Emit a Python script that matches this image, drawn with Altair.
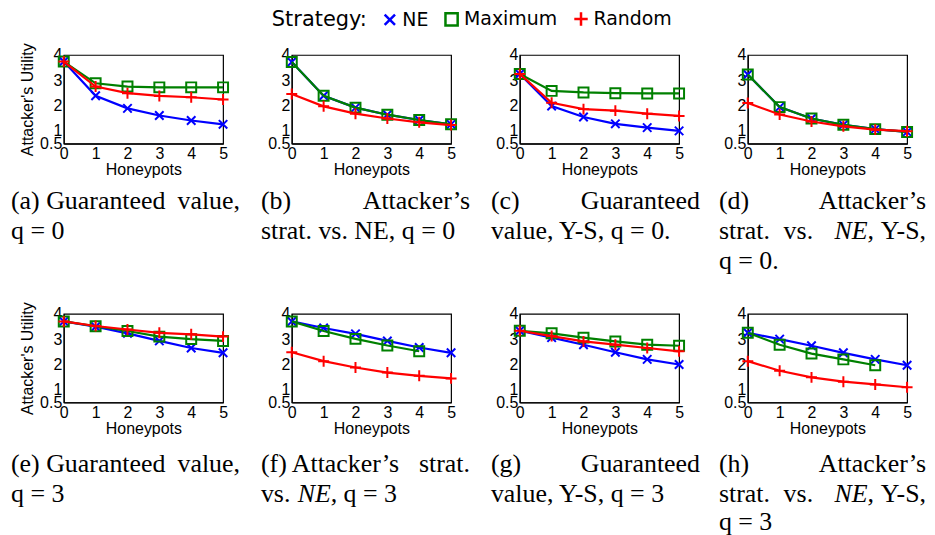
import altair as alt
import pandas as pd

honeypots = [0, 1, 2, 3, 4, 5]
strategies = ["NE", "Maximum", "Random"]
y_ticks = [0.5, 1, 2, 3, 4]

# (a) Guaranteed value, q = 0
a_ne = [3.74, 2.39, 1.89, 1.61, 1.41, 1.26]
a_max = [3.74, 2.88, 2.75, 2.72, 2.72, 2.72]
a_rand = [3.74, 2.75, 2.49, 2.38, 2.33, 2.24]
# (b) Attacker's strat. vs. NE, q = 0
b_ne = [3.72, 2.39, 1.92, 1.64, 1.43, 1.26]
b_max = [3.72, 2.39, 1.92, 1.64, 1.43, 1.26]
b_rand = [2.46, 1.97, 1.68, 1.49, 1.34, 1.23]
# (c) Guaranteed value, Y-S, q = 0
c_ne = [3.25, 1.98, 1.55, 1.28, 1.13, 1.00]
c_max = [3.25, 2.58, 2.52, 2.49, 2.48, 2.48]
c_rand = [3.25, 2.11, 1.86, 1.80, 1.68, 1.59]
# (d) Attacker's strat. vs. NE, Y-S, q = 0
d_ne = [3.23, 1.94, 1.49, 1.24, 1.07, 0.96]
d_max = [3.23, 1.94, 1.49, 1.24, 1.07, 0.96]
d_rand = [2.10, 1.65, 1.37, 1.18, 1.05, 0.99]
# (e) Guaranteed value, q = 3
e_ne = [3.70, 3.49, 3.23, 2.93, 2.65, 2.46]
e_max = [3.70, 3.51, 3.32, 3.10, 3.00, 2.93]
e_rand = [3.70, 3.52, 3.38, 3.25, 3.19, 3.10]
# (f) Attacker's strat. vs. NE, q = 3
f_ne = [3.70, 3.44, 3.21, 2.93, 2.67, 2.46]
f_max = [3.70, 3.32, 3.01, 2.75, 2.52, None]
f_rand = [2.48, 2.13, 1.88, 1.68, 1.55, 1.45]
# (g) Guaranteed value, Y-S, q = 3
g_ne = [3.33, 3.06, 2.78, 2.48, 2.20, 2.00]
g_max = [3.33, 3.23, 3.06, 2.91, 2.78, 2.74]
g_rand = [3.33, 3.12, 2.91, 2.78, 2.65, 2.52]
# (h) Attacker's strat. vs. NE, Y-S, q = 3
h_ne = [3.25, 3.00, 2.74, 2.46, 2.20, 1.97]
h_max = [3.25, 2.78, 2.43, 2.20, 1.97, None]
h_rand = [2.13, 1.75, 1.49, 1.32, 1.21, 1.10]

cap_a = [("(a) Guaranteed", 0, "L", False), ("value,", 0, "R", False), ("q = 0", 1, "L", False)]
cap_b = [("(b)", 0, "L", False), ("Attacker\u2019s", 0, "R", False), ("strat. vs. NE, q = 0", 1, "L", False)]
cap_c = [("(c)", 0, "L", False), ("Guaranteed", 0, "R", False), ("value, Y-S, q = 0.", 1, "L", False)]
cap_d = [("(d)", 0, "L", False), ("Attacker\u2019s", 0, "R", False), ("strat.", 1, "L", False),
         ("vs.", 1, 65, False), ("NE,", 1, 116, True), ("Y-S,", 1, "R", False), ("q = 0.", 2, "L", False)]
cap_e = [("(e) Guaranteed", 0, "L", False), ("value,", 0, "R", False), ("q = 3", 1, "L", False)]
cap_f = [("(f) Attacker\u2019s", 0, "L", False), ("strat.", 0, "R", False), ("vs.", 1, "L", False),
         ("NE,", 1, 37, True), ("q = 3", 1, 83, False)]
cap_g = [("(g)", 0, "L", False), ("Guaranteed", 0, "R", False), ("value, Y-S, q = 3", 1, "L", False)]
cap_h = [("(h)", 0, "L", False), ("Attacker\u2019s", 0, "R", False), ("strat.", 1, "L", False),
         ("vs.", 1, 65, False), ("NE,", 1, 116, True), ("Y-S,", 1, "R", False), ("q = 3", 2, "L", False)]

COLORS = ["#0000ff", "#008000", "#ff0000"]
SHAPES = ["M-0.85,-0.85L0.85,0.85M-0.85,0.85L0.85,-0.85", "square", "M-1.1,0L1.1,0M0,-1.1L0,1.1"]
CAP_FONT = "Liberation Serif"
CAP_FS = 26

LEGEND = alt.Legend(
    title="Strategy:", orient="none", legendX=209, legendY=-46, direction="horizontal",
    titleOrient="left", titleFont="DejaVu Sans", titleFontSize=21, titleFontWeight="normal",
    titleColor="black", titlePadding=13, labelFont="DejaVu Sans", labelFontSize=19,
    labelColor="black", labelOffset=3, symbolSize=150, symbolStrokeWidth=2.5, columnPadding=11,
)

one_row = pd.DataFrame({"k": [0]})


def make_df(series):
    rows = []
    for s, vals in zip(strategies, series):
        for h, v in zip(honeypots, vals):
            if v is not None:
                rows.append({"Honeypots": h, "Utility": v, "Strategy": s})
    return pd.DataFrame(rows)


def caption_marks(caption, cap_dx, cap_w, cap_y):
    out = []
    for text, line_i, pos, italic in caption:
        if pos == "R":
            x, align = cap_dx + cap_w, "right"
        elif pos == "L":
            x, align = cap_dx, "left"
        else:
            x, align = cap_dx + pos, "left"
        kw = dict(text=text, align=align, baseline="alphabetic", font=CAP_FONT,
                  fontSize=CAP_FS, color="black")
        if italic:
            kw["fontStyle"] = "italic"
        out.append(alt.Chart(one_row).mark_text(**kw).encode(
            x=alt.value(x), y=alt.value(cap_y[line_i])))
    return out


def panel(series, show_ytitle, caption, cap_dx, cap_w, cap_y):
    df = make_df(series)
    xenc = alt.X("Honeypots:Q", scale=alt.Scale(domain=[0, 5], nice=False, zero=False),
                 axis=alt.Axis(values=honeypots, title="Honeypots", labelFlush=False, ticks=False,
                               labelPadding=2, titlePadding=0, grid=False))
    yax = dict(values=y_ticks, format="~g", labelFlush=False, labelOverlap=False, ticks=False,
               labelPadding=2, grid=False)
    if show_ytitle:
        yax.update(title="Attacker's Utility", titlePadding=4)
    else:
        yax["title"] = None
    yenc = alt.Y("Utility:Q", scale=alt.Scale(domain=[0.5, 4], nice=False, zero=False),
                 axis=alt.Axis(**yax))
    cscale = alt.Scale(domain=strategies, range=COLORS)
    sscale = alt.Scale(domain=strategies, range=SHAPES)
    layers = []
    for s, col in zip(strategies, COLORS):
        base = alt.Chart(df).transform_filter(alt.datum.Strategy == s).encode(x=xenc, y=yenc)
        layers.append(base.mark_line(strokeWidth=2.2, color=col))
        layers.append(base.mark_point(filled=False, size=100, strokeWidth=2, opacity=1).encode(
            color=alt.Color("Strategy:N", scale=cscale, legend=LEGEND),
            shape=alt.Shape("Strategy:N", scale=sscale, legend=LEGEND)))
    layers += caption_marks(caption, cap_dx, cap_w, cap_y)
    return alt.layer(*layers).properties(width=160, height=89)


row1_y = [155, 185, 215]
row2_y = [159, 189, 217]
cols = [(-53, 230), (-31, 210), (-29, 210), (-29, 208)]

charts = [
    panel((a_ne, a_max, a_rand), True, cap_a, *cols[0], row1_y),
    panel((b_ne, b_max, b_rand), False, cap_b, *cols[1], row1_y),
    panel((c_ne, c_max, c_rand), False, cap_c, *cols[2], row1_y),
    panel((d_ne, d_max, d_rand), False, cap_d, *cols[3], row1_y),
    panel((e_ne, e_max, e_rand), True, cap_e, *cols[0], row2_y),
    panel((f_ne, f_max, f_rand), False, cap_f, *cols[1], row2_y),
    panel((g_ne, g_max, g_rand), False, cap_g, *cols[2], row2_y),
    panel((h_ne, h_max, h_rand), False, cap_h, *cols[3], row2_y),
]

chart = alt.concat(*charts, columns=4, spacing={"row": 171, "column": 69}, bounds="flush").configure_view(
    stroke="black", strokeWidth=1.2
).configure_axis(
    labelFont="Liberation Sans", labelFontSize=16, labelColor="black",
    titleFont="Liberation Sans", titleFontSize=16, titleFontWeight="normal", titleColor="black",
    domainColor="black", domainWidth=1.2,
).properties(
    padding={"left": 2, "top": 0, "right": 0, "bottom": 0}, background="white"
)

chart.save("out.html", embed_options={"renderer": "svg", "actions": False})
